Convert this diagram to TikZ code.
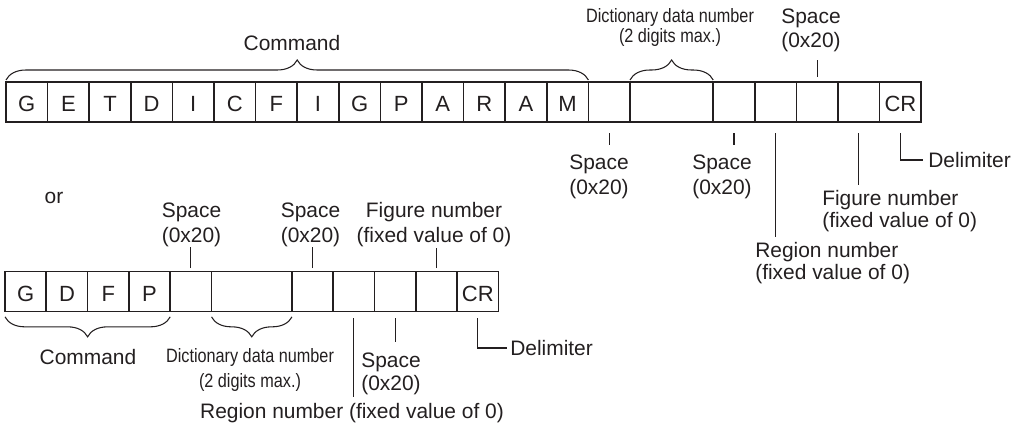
\documentclass[tikz,border=0pt]{standalone}
\usepackage{fontspec}
\setmainfont{Liberation Sans}
\newfontfamily\narrowfont[FakeStretch=0.84]{Liberation Sans}
\definecolor{ink}{RGB}{35,31,32}
\usepackage{tikz}
\usetikzlibrary{positioning, calc, decorations.pathreplacing}

\begin{document}
\begin{tikzpicture}[x=0.75pt, y=-0.75pt, color=ink,
  cell/.style={draw, line width=1.3pt, minimum width=#1, minimum height=30pt,
    inner sep=0pt, outer sep=0pt, anchor=north west, text height=14.5pt, text depth=0pt,
    font=\fontsize{16.5}{18}\selectfont},
  cell/.default=31.2pt,
  lbl/.style={inner sep=0pt, align=center, font=\fontsize{15.7}{#1}\selectfont},
  lbl/.default=18.75pt,
  narrow/.style={inner sep=0pt, align=center, font=\narrowfont\fontsize{14.5}{#1}\selectfont},
  narrow/.default=15.5pt,
  tick/.style={line width=0.8pt},
  curly/.style={decorate, decoration={brace, amplitude=15pt, raise=#1}, line width=0.8pt}]
  \useasboundingbox (0,0) rectangle (1016,428);

  % Long form
  \foreach \ch [count=\i] in {G,E,T,D,I,C,F,I,G,P,A,R,A,M}
    \node[cell] (t\i) at ({6+41.6*(\i-1)},82) {\ch};
  \node[cell] (t15) at (588.4,82) {};
  \node[cell=62.4pt] (t16) at (630,82) {};
  \foreach \i in {17,...,20}
    \node[cell] (t\i) at ({6+41.6*\i},82) {};
  \node[cell] (t21) at (879.6,82) {CR};

  \draw[curly=1.5pt] (t1.north west) -- (t14.north east);
  \draw[curly=1.5pt] (t16.north west) -- (t16.north east);

  \node[lbl] (tcmd) at (292,43) {Command};
  \node[narrow, anchor=north] (tdict) at (670,7.8) {Dictionary data number\\(2 digits max.)};
  \node[lbl=18pt, anchor=north] (tsp) at (811,8.3) {Space\\(0x20)};
  \node[lbl, anchor=north] (sp1) at (599,154.3) {Space\\(0x20)};
  \node[lbl, anchor=north] (sp2) at (722,154.3) {Space\\(0x20)};
  \node[lbl=16.5pt, anchor=north west, align=left] (treg) at (755,242.3) {Region number\\(fixed value of 0)};
  \node[lbl=16.5pt, anchor=north west, align=left] (tfig) at (822,190.3) {Figure number\\(fixed value of 0)};
  \node[lbl, anchor=west] (tdel) at (928,160) {Delimiter};

  \draw[tick, shorten <=3.75pt, shorten >=6pt] (t19.north) -- (t19.north |- tsp.south);
  \draw[tick, shorten <=8.25pt, shorten >=7pt] (t15.south) -- (t15.south |- sp1.north);
  \draw[tick, shorten <=8.25pt, shorten >=7pt] (t17.south) -- (t17.south |- sp2.north);
  \draw[tick, shorten <=8.25pt, shorten >=4pt] (t18.south) -- (t18.south |- treg.north);
  \draw[tick, shorten <=8.25pt, shorten >=4pt] (t20.south) -- (t20.south |- tfig.north);
  \draw[tick, shorten <=8.25pt, shorten >=3.75pt] (t21.south) |- (tdel.west);

  % Short form
  \node[lbl] (ortext) at (54,198) {or};

  \foreach \ch [count=\i] in {G,D,F,P}
    \node[cell=30.975pt] (b\i) at ({5+41.3*(\i-1)},271.5) {\ch};
  \node[cell=30.975pt] (b5) at (170.2,271.5) {};
  \node[cell=60.375pt] (b6) at (211.5,271.5) {};
  \foreach \i in {7,...,10}
    \node[cell=30.975pt] (b\i) at ({292+41.3*(\i-7)},271.5) {};
  \node[cell=30.975pt] (b11) at (457.2,271.5) {CR};

  \draw[curly=4pt] (b4.south east) -- (b1.south west);
  \draw[curly=4pt] (b6.south east) -- (b6.south west);

  \node[lbl, anchor=north] (bsp1) at (191.5,202.3) {Space\\(0x20)};
  \node[lbl, anchor=north] (bsp2) at (310.5,202.3) {Space\\(0x20)};
  \node[lbl, anchor=north] (bfig) at (434,202.3) {Figure number\\(fixed value of 0)};
  \node[lbl] (bcmd) at (88,357) {Command};
  \node[narrow=18.75pt, anchor=north] (bdict) at (250,347.8) {Dictionary data number\\(2 digits max.)};
  \node[lbl=17.25pt, anchor=north] (bsp3) at (391,352.3) {Space\\(0x20)};
  \node[lbl] (breg) at (352,413.5) {Region number (fixed value of 0)};
  \node[lbl, anchor=west] (bdel) at (510,348) {Delimiter};

  \draw[tick, shorten <=2.6pt, shorten >=0.2pt] (b5.north) -- (b5.north |- bsp1.south);
  \draw[tick, shorten <=2.6pt, shorten >=0.2pt] (b7.north) -- (b7.north |- bsp2.south);
  \draw[tick, shorten <=2.6pt, shorten >=0.2pt] (b10.north) -- (b10.north |- bfig.south);
  \draw[tick, shorten <=4.9pt, shorten >=5pt] (b8.south) -- (b8.south |- breg.north);
  \draw[tick, shorten <=4.9pt, shorten >=7.7pt] (b9.south) -- (b9.south |- bsp3.north);
  \draw[tick, shorten <=4.9pt, shorten >=2.25pt] (b11.south) |- (bdel.west);
\end{tikzpicture}
\end{document}
